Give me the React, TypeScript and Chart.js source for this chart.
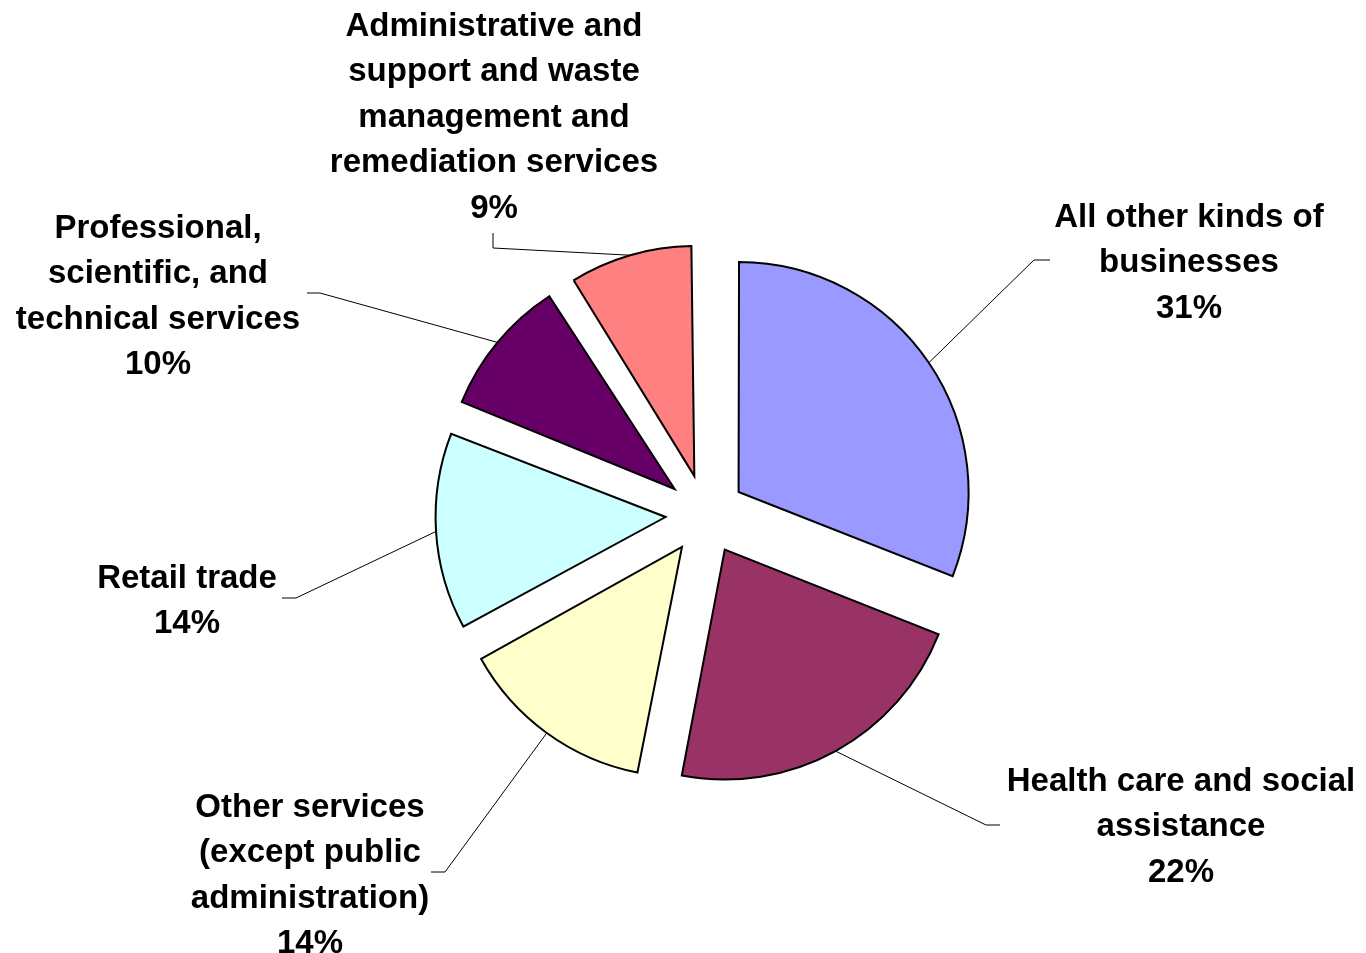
import React, { useEffect, useRef } from 'react';
import { Chart, registerables } from 'chart.js';

Chart.register(...registerables);

// ---- data ----
const CATEGORIES = [
  'All other kinds of businesses',
  'Health care and social assistance',
  'Other services (except public administration)',
  'Retail trade',
  'Professional, scientific, and technical services',
  'Administrative and support and waste management and remediation services',
];
const VALUES = [31, 22, 14, 14, 10, 9];
const COLORS = ['#9999FF', '#993366', '#FFFFCC', '#CCFFFF', '#660066', '#FF8080'];
const LABEL_LINES = [
  ['All other kinds of', 'businesses'],
  ['Health care and social', 'assistance'],
  ['Other services', '(except public', 'administration)'],
  ['Retail trade'],
  ['Professional,', 'scientific, and', 'technical services'],
  ['Administrative and', 'support and waste', 'management and', 'remediation services'],
];

// ---- layout (label placement, as in the original) ----
const RADIUS = 230;
const EXPLODE = 40; // px translation of each slice
const LABEL_POS = [
  [1189, 215],
  [1181, 779],
  [310, 805],
  [187, 576],
  [158, 226],
  [494, 24],
];
const ELBOWS = [
  [1034, 260],
  [986, 825],
  [445, 872],
  [296, 598],
  [320, 293],
  [493, 248],
];
const STUB_ENDS = [
  [1050, 260],
  [1000, 825],
  [431, 872],
  [282, 598],
  [307, 293],
  [493, 233],
];
const LINE_H = 45.5;
const FONT = 'bold 33px "Liberation Sans", Arial, Helvetica, sans-serif';

const explodePlugin = {
  id: 'explodeFix',
  beforeDatasetsDraw(chart: any) {
    const meta = chart.getDatasetMeta(0);
    meta.data.forEach((el: any) => {
      const circ = el.circumference || 0;
      const fix = 1 - Math.sin(Math.min(Math.PI, circ));
      el.outerRadius = RADIUS - EXPLODE * fix;
    });
  },
};

const labelPlugin = {
  id: 'pieLabels',
  afterDatasetsDraw(chart: any) {
    const ctx = chart.ctx;
    const meta = chart.getDatasetMeta(0);
    ctx.save();
    meta.data.forEach((el: any, i: number) => {
      const mid = (el.startAngle + el.endAngle) / 2;
      const ax = el.x + Math.cos(mid) * (EXPLODE + RADIUS);
      const ay = el.y + Math.sin(mid) * (EXPLODE + RADIUS);
      ctx.strokeStyle = '#000';
      ctx.lineWidth = 1;
      ctx.beginPath();
      ctx.moveTo(ax, ay);
      ctx.lineTo(ELBOWS[i][0], ELBOWS[i][1]);
      ctx.lineTo(STUB_ENDS[i][0], STUB_ENDS[i][1]);
      ctx.stroke();

      const lines = [...LABEL_LINES[i], `${VALUES[i]}%`];
      ctx.fillStyle = '#000';
      ctx.font = FONT;
      ctx.textAlign = 'center';
      ctx.textBaseline = 'alphabetic';
      lines.forEach((t, k) => {
        ctx.fillText(t, LABEL_POS[i][0], LABEL_POS[i][1] + 11.5 + k * LINE_H);
      });
    });
    ctx.restore();
  },
};

export default function App() {
  const ref = useRef<HTMLCanvasElement | null>(null);
  useEffect(() => {
    if (!ref.current) return;
    const chart = new Chart(ref.current, {
      type: 'pie',
      data: {
        labels: CATEGORIES,
        datasets: [
          {
            data: VALUES,
            backgroundColor: COLORS,
            borderColor: '#000000',
            borderWidth: 2,
            borderJoinStyle: 'miter',
            offset: EXPLODE * 4,
            hoverOffset: 0,
          } as any,
        ],
      },
      options: {
        responsive: false,
        animation: false,
        events: [],
        radius: RADIUS,
        rotation: 0,
        layout: { padding: { left: 45, top: 76, right: 0, bottom: 0 } },
        plugins: {
          legend: { display: false },
          tooltip: { enabled: false },
        },
      } as any,
      plugins: [explodePlugin, labelPlugin],
    });
    return () => chart.destroy();
  }, []);
  return (
    <div style={{ position: 'fixed', left: 0, top: 0, width: 1366, height: 953, background: '#fff' }}>
      <canvas ref={ref} width={1366} height={953} style={{ display: 'block' }} />
    </div>
  );
}
